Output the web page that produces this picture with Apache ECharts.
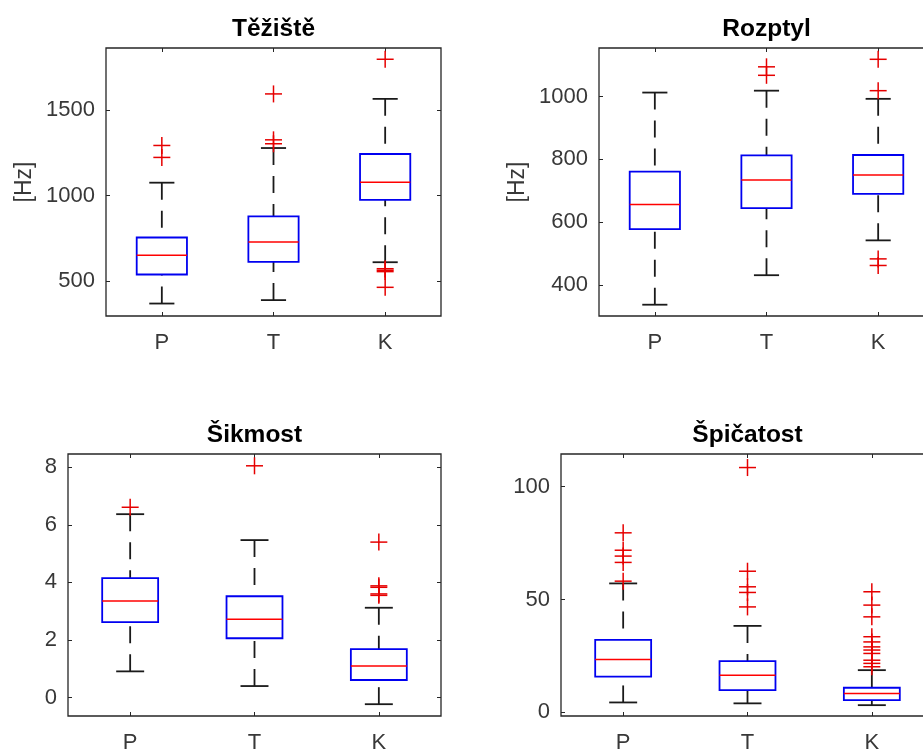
<!DOCTYPE html>
<html>
<head>
<meta charset="utf-8">
<script src="https://cdn.jsdelivr.net/npm/echarts@6/dist/echarts.min.js"></script>
<style>
  html, body { margin: 0; padding: 0; background: #fff; }
  #chart { width: 923px; height: 751px; }
</style>
</head>
<body>
<div id="chart"></div>
<script>
// Groups on the x axis
const categories = ['P', 'T', 'K'];

// Five-number summaries per group: [lower whisker, Q1, median, Q3, upper whisker]
const tezisteBox = [[368, 538, 651, 755, 1076], [388, 612, 729, 879, 1279], [610, 975, 1078, 1244, 1567]];
const tezisteOut = [[1224, 1294], [1304, 1327, 1596], [463, 555, 563, 572, 1799]];
const tezisteTicks = [500, 1000, 1500];
const tezisteRange = [295, 1865];

const rozptylBox = [[337, 578, 656, 761, 1013], [431, 645, 734, 813, 1019], [542, 690, 750, 814, 993]];
const rozptylOut = [[], [1068, 1095], [462, 483, 1019, 1119]];
const rozptylTicks = [400, 600, 800, 1000];
const rozptylRange = [301, 1155];

const sikmostBox = [[0.91, 2.62, 3.35, 4.15, 6.37], [0.40, 2.06, 2.72, 3.52, 5.47], [-0.23, 0.61, 1.10, 1.68, 3.12]];
const sikmostOut = [[6.61], [8.05], [3.55, 3.60, 3.83, 3.88, 5.40]];
const sikmostTicks = [0, 2, 4, 6, 8];
const sikmostRange = [-0.64, 8.46];

const spicatostBox = [[4.4, 15.8, 23.4, 32.1, 57.1], [4.0, 9.9, 16.4, 22.7, 38.3], [3.2, 5.4, 8.4, 10.9, 18.7]];
const spicatostOut = [[58.1, 66.4, 69.2, 71.8, 79.5], [46.7, 53.1, 55.6, 62.5, 108.4],
  [20.2, 21.7, 23.1, 26.1, 27.6, 29.0, 31.2, 33.5, 42.3, 47.5, 53.4]];
const spicatostTicks = [0, 50, 100];
const spicatostRange = [-1.6, 114.4];

const panels = [
  { title: 'Těžiště', box: tezisteBox, out: tezisteOut, ticks: tezisteTicks, range: tezisteRange, unit: '[Hz]',
    rect: { left: 106, top: 48, width: 335, height: 268 } },
  { title: 'Rozptyl', box: rozptylBox, out: rozptylOut, ticks: rozptylTicks, range: rozptylRange, unit: '[Hz]',
    rect: { left: 599, top: 48, width: 335, height: 268 } },
  { title: 'Šikmost', box: sikmostBox, out: sikmostOut, ticks: sikmostTicks, range: sikmostRange, unit: '',
    rect: { left: 68, top: 454, width: 373, height: 262 } },
  { title: 'Špičatost', box: spicatostBox, out: spicatostOut, ticks: spicatostTicks, range: spicatostRange, unit: '',
    rect: { left: 561, top: 454, width: 373, height: 262 } }
];

const FONT = 'Liberation Sans, Arial, sans-serif';
const AXIS_COLOR = '#262626';
const LABEL_COLOR = '#383838';

function renderBox(params, api) {
  const c = api.value(0);
  const pt = k => api.coord([c, api.value(k)]);
  const lo = pt(1), q1 = pt(2), md = pt(3), q3 = pt(4), hi = pt(5);
  const band = api.size([1, 0])[0];
  const hw = band * 0.225;
  const cw = hw / 2;
  const x = lo[0];
  const dashed = { stroke: '#1a1a1a', lineWidth: 1.8, lineDash: [17, 11], fill: null };
  const solid = { stroke: '#1a1a1a', lineWidth: 1.8, fill: null };
  return {
    type: 'group',
    children: [
      { type: 'line', shape: { x1: x, y1: hi[1], x2: x, y2: q3[1] }, style: dashed },
      { type: 'line', shape: { x1: x, y1: lo[1], x2: x, y2: q1[1] }, style: dashed },
      { type: 'line', shape: { x1: x - cw, y1: hi[1], x2: x + cw, y2: hi[1] }, style: solid },
      { type: 'line', shape: { x1: x - cw, y1: lo[1], x2: x + cw, y2: lo[1] }, style: solid },
      { type: 'rect', shape: { x: x - hw, y: q3[1], width: 2 * hw, height: q1[1] - q3[1] },
        style: { fill: null, stroke: '#0000f0', lineWidth: 1.8 } },
      { type: 'line', shape: { x1: x - hw, y1: md[1], x2: x + hw, y2: md[1] },
        style: { stroke: '#ff0000', lineWidth: 1.5 } }
    ]
  };
}

function renderCross(params, api) {
  const p = api.coord([api.value(0), api.value(1)]);
  const s = 8.5;
  const st = { stroke: '#e60000', lineWidth: 1.5 };
  return {
    type: 'group',
    children: [
      { type: 'line', shape: { x1: p[0] - s, y1: p[1], x2: p[0] + s, y2: p[1] }, style: st },
      { type: 'line', shape: { x1: p[0], y1: p[1] - s, x2: p[0], y2: p[1] + s }, style: st }
    ]
  };
}

const plainNumber = v => String(v);
const grid = [], xAxis = [], yAxis = [], series = [], title = [];

panels.forEach((pn, i) => {
  grid.push(Object.assign({
    show: true, borderColor: AXIS_COLOR, borderWidth: 1.3, backgroundColor: '#fff',
    containLabel: false, outerBoundsMode: 'none'
  }, pn.rect));

  // bottom axis with group labels, top axis with ticks only
  xAxis.push({
    type: 'category', gridIndex: i, data: categories, position: 'bottom',
    axisLine: { show: false, onZero: false },
    axisTick: { show: true, inside: true, alignWithLabel: true, length: 4, lineStyle: { color: AXIS_COLOR } },
    axisLabel: { color: LABEL_COLOR, fontFamily: FONT, fontSize: 22, margin: 16 },
    splitLine: { show: false }
  });
  xAxis.push({
    type: 'category', gridIndex: i, data: categories, position: 'top',
    axisLine: { show: false, onZero: false },
    axisTick: { show: true, inside: true, alignWithLabel: true, length: 4, lineStyle: { color: AXIS_COLOR } },
    axisLabel: { show: false },
    splitLine: { show: false }
  });

  const yCommon = {
    type: 'value', gridIndex: i, min: pn.range[0], max: pn.range[1],
    axisLine: { show: false, onZero: false },
    splitLine: { show: false }
  };
  yAxis.push(Object.assign({}, yCommon, {
    position: 'left',
    name: pn.unit, nameLocation: 'middle', nameGap: 70, nameRotate: 90,
    nameTextStyle: { color: LABEL_COLOR, fontFamily: FONT, fontSize: 23 },
    axisTick: { show: true, inside: true, length: 4, customValues: pn.ticks, lineStyle: { color: AXIS_COLOR } },
    axisLabel: { color: LABEL_COLOR, fontFamily: FONT, fontSize: 22, margin: 11,
      customValues: pn.ticks, formatter: plainNumber }
  }));
  yAxis.push(Object.assign({}, yCommon, {
    position: 'right',
    axisTick: { show: true, inside: true, length: 4, customValues: pn.ticks, lineStyle: { color: AXIS_COLOR } },
    axisLabel: { show: false, customValues: pn.ticks }
  }));

  title.push({
    text: pn.title,
    left: pn.rect.left + pn.rect.width / 2,
    top: pn.rect.top - 31,
    textAlign: 'center',
    padding: 0,
    textStyle: { fontFamily: FONT, fontSize: 24.5, fontWeight: 'bold', color: '#000' }
  });

  series.push({
    type: 'custom', xAxisIndex: 2 * i, yAxisIndex: 2 * i,
    renderItem: renderBox,
    encode: { x: 0, y: [1, 2, 3, 4, 5] },
    data: pn.box.map((b, k) => [k].concat(b)),
    silent: true, animation: false
  });
  const outData = [];
  pn.out.forEach((arr, k) => arr.forEach(v => outData.push([k, v])));
  series.push({
    type: 'custom', xAxisIndex: 2 * i, yAxisIndex: 2 * i,
    renderItem: renderCross,
    encode: { x: 0, y: 1 },
    data: outData,
    silent: true, animation: false
  });
});

const chart = echarts.init(document.getElementById('chart'), null, { renderer: 'canvas' });
chart.setOption({
  backgroundColor: '#fff',
  animation: false,
  textStyle: { fontFamily: FONT },
  title, grid, xAxis, yAxis, series
});
</script>
</body>
</html>
